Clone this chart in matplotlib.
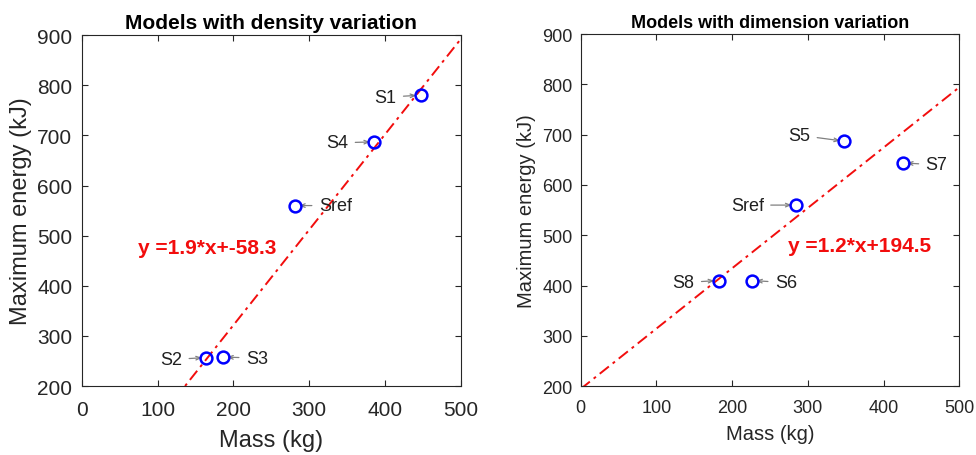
import matplotlib.pyplot as plt
import numpy as np

plt.rcParams['font.family'] = ['Liberation Sans', 'DejaVu Sans']

# density variation models
dens_names = ['S1', 'S2', 'S3', 'S4', 'Sref']
dens_mass = [447, 164, 186, 386, 281]
dens_energy = [780, 257, 258, 687, 560]
dens_fit = (1.9, -58.3)

# dimension variation models
dim_names = ['S5', 'S6', 'S7', 'S8', 'Sref']
dim_mass = [348, 226, 425, 182, 284]
dim_energy = [687, 410, 644, 410, 560]
dim_fit = (1.2, 194.5)

# label offsets in pixels (dx, dy), negative dx puts label on the left
dens_offsets = [(-24, -2), (-24, -2), (23, -1), (-26, -1), (24, 0)]
dim_offsets = [(-34, 6), (23, -2), (23, -2), (-24, -2), (-32, 0)]

axcol = '#262626'
red = (0.95, 0.05, 0.05)


def draw_panel(ax, names, mass, energy, fit, offsets, title, fit_pos, fs):
    xx = np.linspace(0, 520, 50)
    ax.plot(xx, fit[0] * xx + fit[1], color=red, lw=1.4,
            ls=(0, (6, 2.5, 1.5, 2.5)), zorder=2)
    ax.plot(mass, energy, 'o', mfc='none', mec=(0, 0, 1), ms=8.5, mew=1.8, zorder=4)
    for n, m, e, off in zip(names, mass, energy, offsets):
        ax.annotate(n, xy=(m, e), xytext=off, textcoords='offset pixels',
                    ha='right' if off[0] < 0 else 'left', va='center',
                    fontsize=fs['ann'], color='#202020', zorder=3,
                    arrowprops=dict(arrowstyle='->,head_length=0.25,head_width=0.1',
                                    color='gray', lw=0.9, shrinkA=3, shrinkB=3))
    eq = f'y ={fit[0]}*x+{fit[1]}'
    ax.text(fit_pos[0], fit_pos[1], eq, color=red, fontweight='bold',
            fontsize=fs['fit'], ha='left', va='center')
    ax.set_xlim(0, 500)
    ax.set_ylim(200, 900)
    ax.set_xticks(range(0, 501, 100))
    ax.set_yticks(range(200, 901, 100))
    ax.tick_params(direction='in', top=True, right=True, length=4, width=0.8,
                   colors=axcol, labelsize=fs['tick'])
    ax.tick_params(axis='x', pad=fs['xpad'])
    ax.tick_params(axis='y', pad=fs['ypad'])
    for s in ax.spines.values():
        s.set_color(axcol)
        s.set_linewidth(0.8)
    ax.set_title(title, fontweight='bold', fontsize=fs['title'], pad=5)
    ax.set_xlabel('Mass (kg)', fontsize=fs['label'], color=axcol, labelpad=fs['xlpad'])
    ax.set_ylabel('Maximum energy (kJ)', fontsize=fs['label'], color=axcol, labelpad=4)


fig = plt.figure(figsize=(9.76, 4.56), dpi=100)
ax1 = fig.add_axes([0.084, 0.151, 0.388, 0.770])
ax2 = fig.add_axes([0.595, 0.151, 0.388, 0.772])

draw_panel(ax1, dens_names, dens_mass, dens_energy, dens_fit, dens_offsets,
           'Models with density variation', (74, 477),
           dict(ann=13, fit=15, tick=15, label=17, title=15,
                xpad=10, ypad=7, xlpad=7))
draw_panel(ax2, dim_names, dim_mass, dim_energy, dim_fit, dim_offsets,
           'Models with dimension variation', (274, 479),
           dict(ann=13, fit=15, tick=13, label=14.5, title=13,
                xpad=9, ypad=6, xlpad=6))

fig.savefig('out.png', dpi=100)
